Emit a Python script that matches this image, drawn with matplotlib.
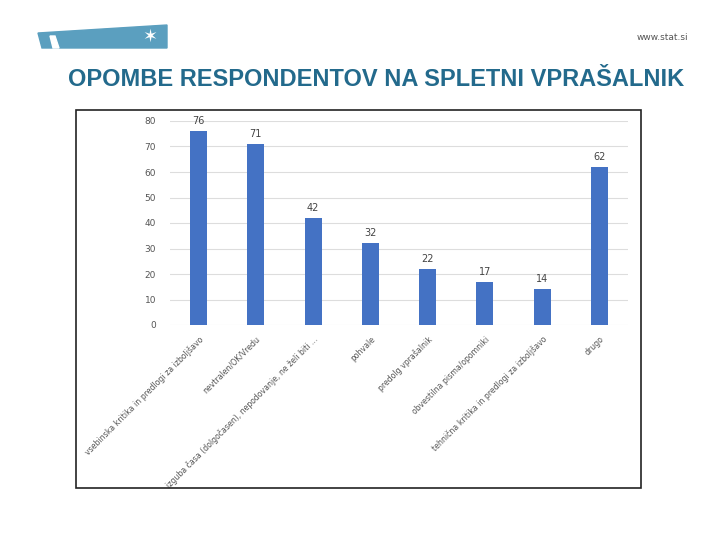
import matplotlib.pyplot as plt
import matplotlib.patches as mpatches
import numpy as np

# data
categories = [
    'vsebinska kritika in predlogi za izboljšavo',
    'nevtralen/OK/Vredu',
    'izguba časa (dolgočasen), nepodovanje, ne želi biti ...',
    'pohvale',
    'predolg vprašalnik',
    'obvestilna pisma/opomniki',
    'tehnična kritika in predlogi za izboljšavo',
    'drugo',
]
counts = [76, 71, 42, 32, 22, 17, 14, 62]
y_ticks = [0, 10, 20, 30, 40, 50, 60, 70, 80]

W, H = 720, 540


def px(x, y):
    # pixel coords (top-left origin) -> figure fraction
    return (x / W, 1 - y / H)


fig = plt.figure(figsize=(7.2, 5.4), dpi=100)

# logo strip in the top-left corner
logo = mpatches.Polygon([px(38, 33), px(167, 25), px(167, 48), px(42, 48)], closed=True,
                        transform=fig.transFigure, color='#5b9fbf', zorder=1)
fig.patches.append(logo)
notch = mpatches.Polygon([px(50, 36), px(55, 36), px(59, 48), px(53, 48)], closed=True,
                         transform=fig.transFigure, color='white', zorder=2)
fig.patches.append(notch)
fig.text(*px(150, 37), '✶', color='white', fontsize=13, ha='center', va='center')
fig.text(*px(688, 37), 'www.stat.si', color='#555555', fontsize=6.5, ha='right', va='center')

fig.text(*px(68, 80), 'OPOMBE RESPONDENTOV NA SPLETNI VPRAŠALNIK',
         color='#236a8c', fontsize=17, fontweight='bold', ha='left', va='center',
         family='Liberation Sans')

# frame around the chart image
frame = mpatches.Rectangle(px(76, 488), (641 - 76) / W, (488 - 110) / H,
                           transform=fig.transFigure, fill=False, edgecolor='#222222', lw=1.2)
fig.patches.append(frame)

ax = fig.add_axes([170 / W, 1 - 325 / H, (628 - 170) / W, (325 - 121) / H])
x = np.arange(len(categories))
ax.bar(x, counts, width=0.3, color='#4472c4', zorder=3)
for xi, v in zip(x, counts):
    ax.text(xi, v + 2, str(v), ha='center', va='bottom', fontsize=7, color='#444444')

ax.set_xlim(-0.5, len(categories) - 0.5)
ax.set_ylim(0, 80)
ax.set_yticks(y_ticks)
ax.tick_params(axis='y', labelsize=6.5, colors='#555555', length=0, pad=10)
ax.grid(axis='y', color='#dddddd', lw=0.8, zorder=0)
ax.set_xticks(x)
ax.set_xticklabels(categories, rotation=45, ha='right', rotation_mode='anchor',
                   fontsize=5.6, color='#555555')
ax.tick_params(axis='x', length=0, pad=7)
for s in ax.spines.values():
    s.set_visible(False)

plt.savefig('out.png', dpi=100)
